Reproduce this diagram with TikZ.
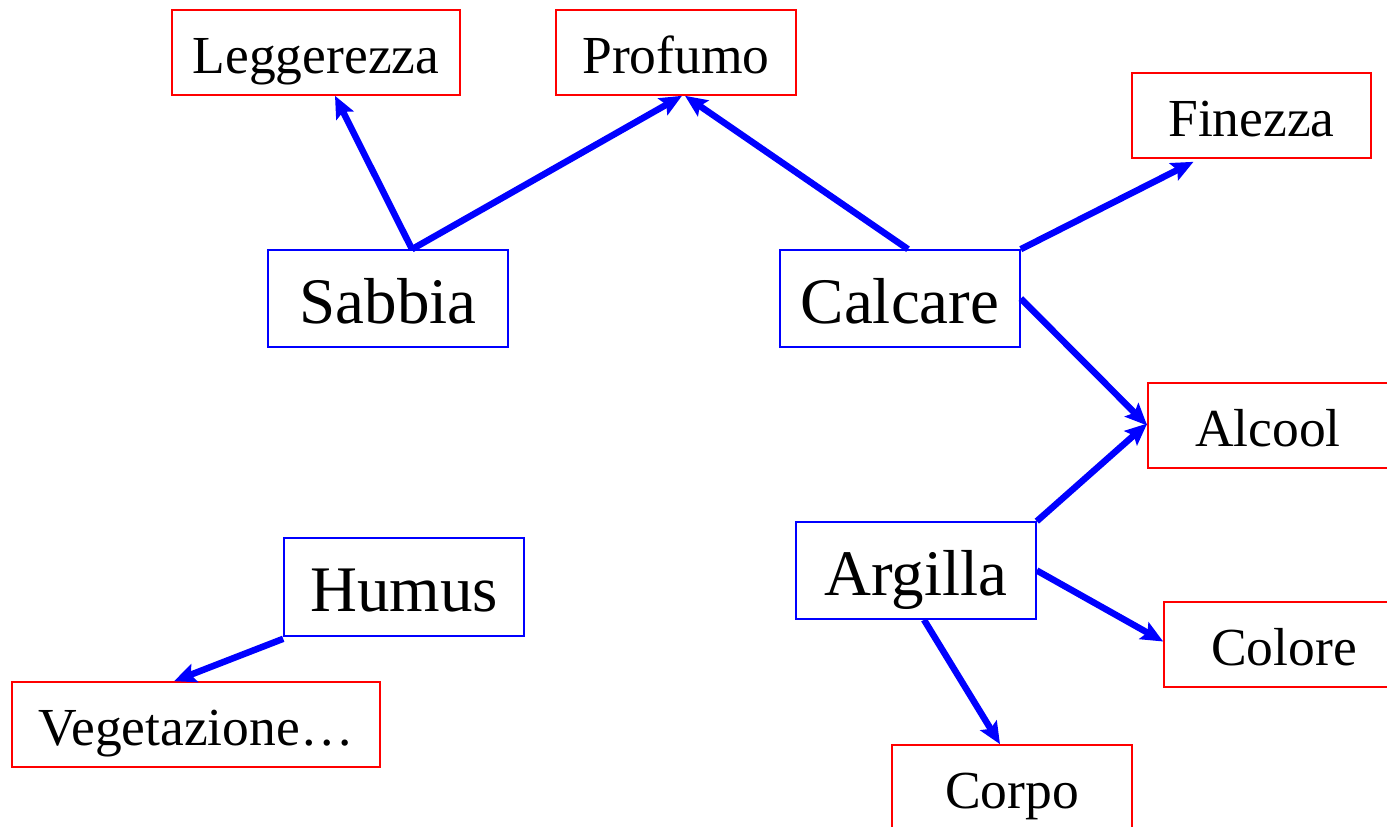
\documentclass[tikz,border=0pt]{standalone}
\usepackage{fontspec}
\setmainfont{Liberation Serif}
\usetikzlibrary{arrows.meta}
\begin{document}
\begin{tikzpicture}[x=1pt,y=-1pt,
  redbox/.style={draw=red,line width=1.6pt,minimum width=240pt,minimum height=85pt,inner sep=0pt,text height=41pt,text depth=0pt,font=\fontsize{53.5}{60}\selectfont},
  bluebox/.style={draw=blue,line width=1.6pt,minimum width=240pt,minimum height=97pt,inner sep=0pt,text height=49pt,text depth=0pt,font=\fontsize{65}{72}\selectfont},
  link/.style={draw=blue,line width=6.5pt,-{Stealth[length=22pt,width=19pt,inset=4pt]}}]
\useasboundingbox (0,0) rectangle (1387,827);
\clip (0,0) rectangle (1387,827);
\node[redbox,minimum width=288pt] (leg) at (316,52.5) {Leggerezza};
\node[redbox] (pro) at (676,52.5) {Profumo};
\node[redbox,minimum width=239pt] (fin) at (1251.5,115.5) {Finezza};
\node[bluebox] (sab) at (388,298.5) {Sabbia};
\node[bluebox] (cal) at (900,298.5) {Calcare};
\node[redbox] (alc) at (1268,425.5) {Alcool};
\node[bluebox] (arg) at (916,570.5) {Argilla};
\node[redbox] (col) at (1284,644.5) {Colore};
\node[bluebox,minimum height=98pt] (hum) at (404,587) {Humus};
\node[redbox,minimum width=368pt] (veg) at (196,724.5) {Vegetazione…};
\node[redbox] (cor) at (1012,787.5) {Corpo};
\draw[link] ([xshift=24pt]sab.north) -- ([xshift=19pt]leg.south);
\draw[link] ([xshift=24pt]sab.north) -- ([xshift=6pt]pro.south);
\draw[link] ([xshift=8pt]cal.north) -- ([xshift=9pt]pro.south);
\draw[link] (cal.north east) -- ([xshift=-58pt,yshift=-3pt]fin.south);
\draw[link] (cal.east) -- (alc.west);
\draw[link] (arg.north east) -- ([yshift=2pt]alc.west);
\draw[link] (arg.east) -- ([yshift=3pt]col.west);
\draw[link] ([xshift=8pt]arg.south) -- ([xshift=-12pt]cor.north);
\draw[link] ([yshift=-2pt]hum.south west) -- ([xshift=-22pt]veg.north);
\end{tikzpicture}
\end{document}
